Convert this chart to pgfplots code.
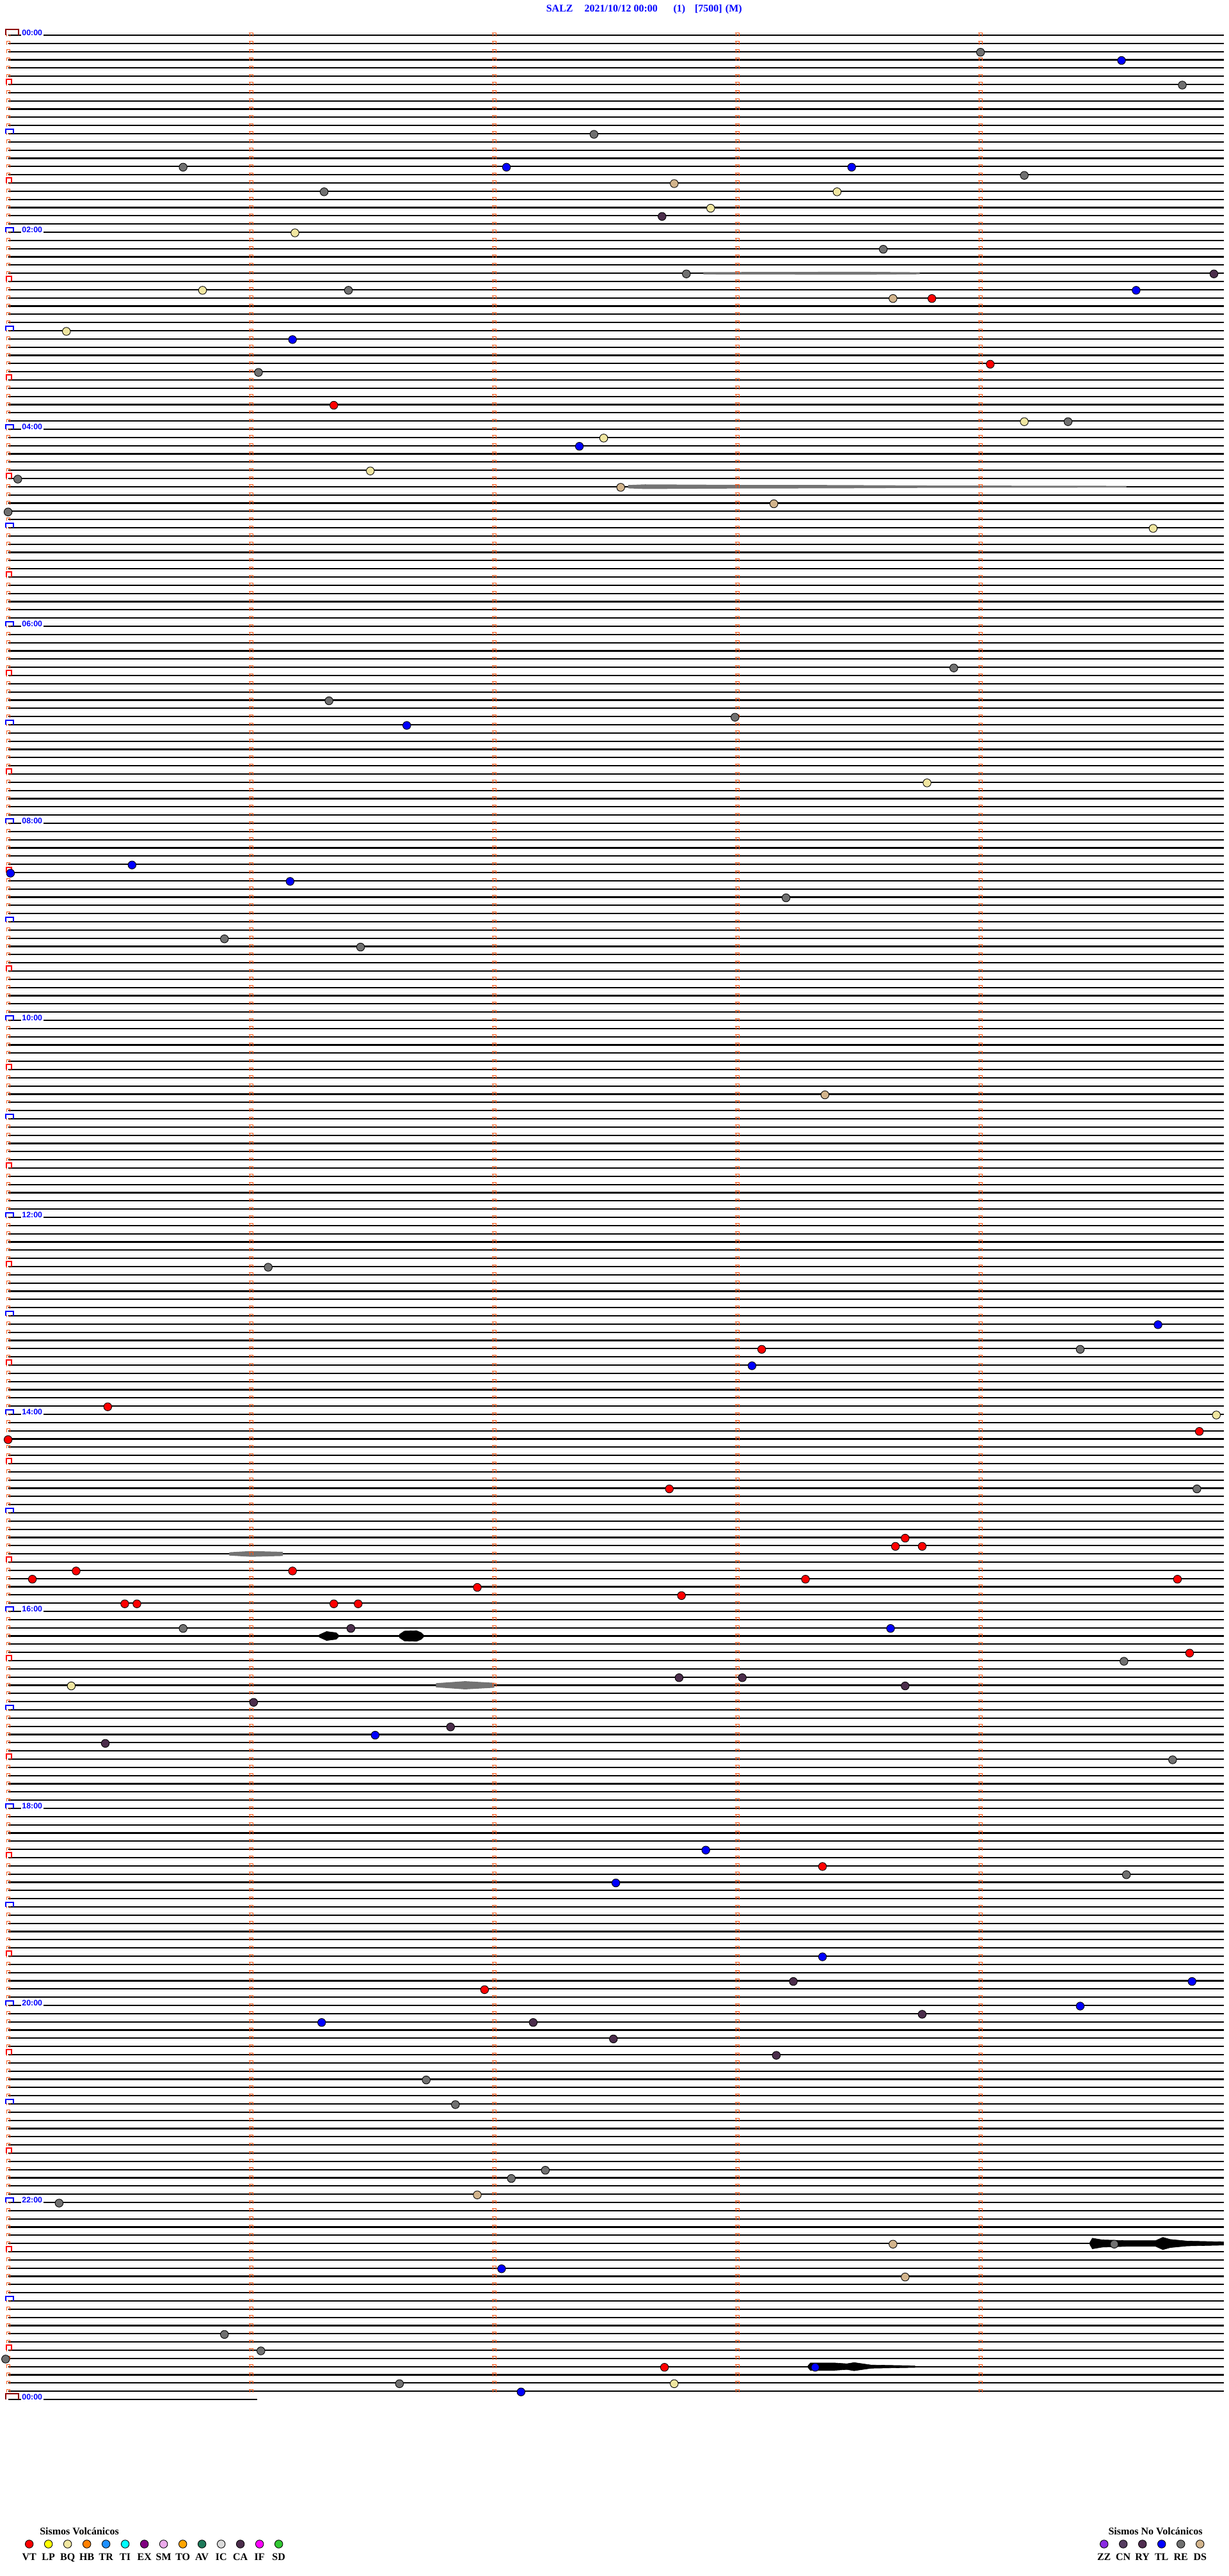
\documentclass[border=0pt]{standalone}
\usepackage{pgfplots}
\pgfplotsset{compat=1.18}
\usepackage{fontspec}
\setmainfont{Liberation Serif}
\newfontfamily\lsans{Liberation Sans}

\definecolor{cVT}{RGB}{255,0,0}
\definecolor{cLP}{RGB}{255,255,0}
\definecolor{cBQ}{RGB}{240,230,160}
\definecolor{cHB}{RGB}{255,128,0}
\definecolor{cTR}{RGB}{30,144,255}
\definecolor{cTI}{RGB}{0,255,255}
\definecolor{cEX}{RGB}{128,0,128}
\definecolor{cSM}{RGB}{235,170,235}
\definecolor{cTO}{RGB}{255,165,0}
\definecolor{cAV}{RGB}{30,122,90}
\definecolor{cIC}{RGB}{218,218,218}
\definecolor{cCA}{RGB}{75,45,75}
\definecolor{cIF}{RGB}{255,0,255}
\definecolor{cSD}{RGB}{50,200,50}
\definecolor{cZZ}{RGB}{138,43,226}
\definecolor{cCN}{RGB}{85,60,95}
\definecolor{cRY}{RGB}{80,45,80}
\definecolor{cTL}{RGB}{0,0,255}
\definecolor{cRE}{RGB}{112,112,112}
\definecolor{cDS}{RGB}{210,180,140}
\definecolor{morange}{RGB}{255,85,20}
\definecolor{dred}{RGB}{139,0,0}

\pgfdeclareplotmark{hourbox}{%
  \pgfpathrectangle{\pgfqpoint{-1.5pt}{0.3pt}}{\pgfqpoint{3pt}{1.45pt}}%
  \pgfsetfillcolor{white}\pgfusepathqfill
  \pgfpathmoveto{\pgfqpoint{-1.5pt}{0pt}}\pgfpathlineto{\pgfqpoint{-1.5pt}{1.75pt}}%
  \pgfpathlineto{\pgfqpoint{1.5pt}{1.75pt}}\pgfpathlineto{\pgfqpoint{1.5pt}{0pt}}%
  \pgfsetstrokecolor{blue}\pgfsetlinewidth{0.4pt}\pgfusepathqstroke}
\pgfdeclareplotmark{halfbox}{%
  \pgfpathrectangle{\pgfqpoint{-1pt}{0.3pt}}{\pgfqpoint{2pt}{1.7pt}}%
  \pgfsetfillcolor{white}\pgfusepathqfill
  \pgfpathmoveto{\pgfqpoint{-1pt}{0pt}}\pgfpathlineto{\pgfqpoint{-1pt}{2pt}}%
  \pgfpathlineto{\pgfqpoint{1pt}{2pt}}\pgfpathlineto{\pgfqpoint{1pt}{0pt}}%
  \pgfsetstrokecolor{red}\pgfsetlinewidth{0.3pt}\pgfusepathqstroke}
\pgfdeclareplotmark{daybox}{%
  \pgfpathrectangle{\pgfqpoint{-2.5pt}{0.3pt}}{\pgfqpoint{5pt}{1.95pt}}%
  \pgfsetfillcolor{white}\pgfusepathqfill
  \pgfpathmoveto{\pgfqpoint{-2.5pt}{0pt}}\pgfpathlineto{\pgfqpoint{-2.5pt}{2.2pt}}%
  \pgfpathlineto{\pgfqpoint{2.5pt}{2.2pt}}\pgfpathlineto{\pgfqpoint{2.5pt}{0pt}}%
  \pgfsetstrokecolor{dred}\pgfsetlinewidth{0.45pt}\pgfusepathqstroke}

\pgfplotsset{
  ev/.style={only marks, mark=*, mark size=1.5625pt,
    mark options={fill=#1, draw=black, line width=0.22pt}},
  oside/.style={morange, line width=0.25pt, dash pattern=on 1.25pt off 1.958333pt},
  otop/.style={morange, line width=1.6pt, dash pattern=on 0.25pt off 2.958333pt},
  wave/.style={fill=black, draw=black, line width=0.15pt},
  noise/.style={fill=black!55, draw=none},
}
\tikzset{
  tl/.style={anchor=base west, inner xsep=0.4pt, inner ysep=0.35pt, fill=white, text=blue, font=\lsans\bfseries\fontsize{3.1}{3.7}\selectfont},
  lg/.style={anchor=base, inner sep=0pt, font=\bfseries\fontsize{4}{4.8}\selectfont},
}

\begin{document}
\begin{tikzpicture}
\begin{axis}[
  scale only axis, width=475pt, height=1006.75pt,
  xmin=0, xmax=5, ymin=-4.285714, ymax=309.5065,
  y dir=reverse, clip=false,
  axis line style={draw=none},
  xtick=\empty, ytick={0,1,...,287},
  yticklabels={}, yticklabel style={overlay},
  major tick length=0pt,
  ymajorgrids, major grid style={black, line width=0.55pt},
]
% invisible frame for the whole picture
\addplot[draw=none, forget plot] coordinates {(-0.033158,-4.285714) (5.019474,309.5065)};
% partial last trace (24:00)
\addplot[black, line width=0.55pt] coordinates {(0,288) (1.025,288)};

% noisy stretches of trace
\addplot[noise] coordinates {(2.86,28.86) (3.2,28.84) (3.5,28.82) (3.75,28.88)
  (3.75,29.12) (3.5,29.18) (3.2,29.16) (2.86,29.14)} --cycle;
\addplot[noise] coordinates {(2.55,54.8) (2.62,54.72) (2.75,54.74) (3.0,54.78) (3.4,54.8) (3.8,54.86) (4.6,54.9)
  (4.6,55.1) (3.8,55.14) (3.4,55.2) (3.0,55.22) (2.75,55.26) (2.62,55.28) (2.55,55.2)} --cycle;
\addplot[noise] coordinates {(0.91,184.8) (1.0,184.65) (1.13,184.75) (1.13,185.25) (1.0,185.35) (0.91,185.2)} --cycle;
\addplot[noise] coordinates {(1.76,200.75) (1.88,200.5) (2.0,200.7) (2.0,201.3) (1.88,201.5) (1.76,201.25)} --cycle;

% waveforms of larger events
\addplot[wave] coordinates {(1.28,194.85) (1.31,194.45) (1.35,194.6) (1.36,194.9) (1.36,195.1) (1.35,195.4) (1.31,195.55) (1.28,195.15)} --cycle;
\addplot[wave] coordinates {(1.61,194.8) (1.63,194.4) (1.68,194.35) (1.70,194.6) (1.71,194.9) (1.71,195.1) (1.70,195.4) (1.68,195.65) (1.63,195.6) (1.61,195.2)} --cycle;
\addplot[wave] coordinates {(4.45,268.85) (4.46,268.35) (4.50,268.55) (4.60,268.65) (4.72,268.65) (4.75,268.25) (4.78,268.5) (4.85,268.7) (5.0,268.8)
  (5.0,269.2) (4.85,269.3) (4.78,269.5) (4.75,269.75) (4.72,269.35) (4.60,269.35) (4.50,269.45) (4.46,269.65) (4.45,269.15)} --cycle;
\addplot[wave] coordinates {(3.29,283.9) (3.30,283.55) (3.40,283.55) (3.45,283.65) (3.48,283.5) (3.55,283.8) (3.73,283.9)
  (3.73,284.1) (3.55,284.2) (3.48,284.5) (3.45,284.35) (3.40,284.45) (3.30,284.45) (3.29,284.1)} --cycle;

% orange marks: left column and minute columns
\addplot[oside] coordinates {(-0.00498,-0.2338) (-0.00498,287.2)};
\addplot[oside] coordinates {(0.00818,-0.2338) (0.00818,287.2)};
\addplot[otop] coordinates {(0.0016,-0.2727) (0.0016,287.1)};
\addplot[oside] coordinates {(0.99342,-0.2338) (0.99342,287.2)};
\addplot[oside] coordinates {(1.00658,-0.2338) (1.00658,287.2)};
\addplot[otop] coordinates {(1,-0.2727) (1,287.1)};
\addplot[oside] coordinates {(1.99342,-0.2338) (1.99342,287.2)};
\addplot[oside] coordinates {(2.00658,-0.2338) (2.00658,287.2)};
\addplot[otop] coordinates {(2,-0.2727) (2,287.1)};
\addplot[oside] coordinates {(2.99342,-0.2338) (2.99342,287.2)};
\addplot[oside] coordinates {(3.00658,-0.2338) (3.00658,287.2)};
\addplot[otop] coordinates {(3,-0.2727) (3,287.1)};
\addplot[oside] coordinates {(3.99342,-0.2338) (3.99342,287.2)};
\addplot[oside] coordinates {(4.00658,-0.2338) (4.00658,287.2)};
\addplot[otop] coordinates {(4,-0.2727) (4,287.1)};

% hour / half-hour / day boxes
\addplot[only marks, mark=halfbox] coordinates {(0.0037,6) (0.0037,18) (0.0037,30) (0.0037,42) (0.0037,54) (0.0037,66) (0.0037,78) (0.0037,90) (0.0037,102) (0.0037,114) (0.0037,126) (0.0037,138) (0.0037,150) (0.0037,162) (0.0037,174) (0.0037,186) (0.0037,198) (0.0037,210) (0.0037,222) (0.0037,234) (0.0037,246) (0.0037,258) (0.0037,270) (0.0037,282)};
\addplot[only marks, mark=hourbox] coordinates {(0.0063,12) (0.0063,24) (0.0063,36) (0.0063,48) (0.0063,60) (0.0063,72) (0.0063,84) (0.0063,96) (0.0063,108) (0.0063,120) (0.0063,132) (0.0063,144) (0.0063,156) (0.0063,168) (0.0063,180) (0.0063,192) (0.0063,204) (0.0063,216) (0.0063,228) (0.0063,240) (0.0063,252) (0.0063,264) (0.0063,276)};
\addplot[only marks, mark=daybox] coordinates {(0.0176,0) (0.0176,288)};

% events
\addplot[ev=cRE] coordinates {(4.00,2.08) (4.83,6.08) (2.41,12.08) (0.72,16.08) (4.18,17.08) (1.30,19.08) (3.60,26.08) (2.79,29.08) (1.40,31.08) (1.03,41.08) (4.36,47.08) (0.04,54.08) (0.0,58.08) (3.89,77.08) (1.32,81.08) (2.99,83.08) (3.20,105.08) (0.89,110.08) (1.45,111.08) (1.07,150.08) (4.41,160.08) (4.89,177.08) (0.72,194.08) (4.59,198.08) (4.79,210.08) (4.60,224.08) (1.72,249.08) (1.84,252.08) (2.21,260.08) (2.07,261.08) (0.21,264.08) (4.55,269.08) (0.89,280.08) (1.04,282.08) (-0.01,283.08) (1.61,286.08)};
\addplot[ev=cCA] coordinates {(2.69,22.08) (4.96,29.08) (1.41,194.08) (2.76,200.08) (3.02,200.08) (3.69,201.08) (1.01,203.08) (1.82,206.08) (0.40,208.08) (3.23,237.08) (3.76,241.08) (2.16,242.08) (2.49,244.08) (3.16,246.08)};
\addplot[ev=cBQ] coordinates {(3.41,19.08) (2.89,21.08) (1.18,24.08) (0.80,31.08) (0.24,36.08) (4.18,47.08) (2.45,49.08) (1.49,53.08) (4.71,60.08) (3.78,91.08) (4.97,168.08) (0.26,201.08) (2.74,286.08)};
\addplot[ev=cDS] coordinates {(2.74,18.08) (3.64,32.08) (2.52,55.08) (3.15,57.08) (3.36,129.08) (1.93,263.08) (3.64,269.08) (3.69,273.08)};
\addplot[ev=cTL] coordinates {(4.58,3.08) (2.05,16.08) (3.47,16.08) (4.64,31.08) (1.17,37.08) (2.35,50.08) (1.64,84.08) (0.51,101.08) (0.01,102.08) (1.16,103.08) (4.73,157.08) (3.06,162.08) (3.63,194.08) (1.51,207.08) (2.87,221.08) (2.50,225.08) (3.35,234.08) (4.87,237.08) (4.41,240.08) (1.29,242.08) (2.03,272.08) (3.32,284.08) (2.11,287.08)};
\addplot[ev=cVT] coordinates {(3.80,32.08) (4.04,40.08) (1.34,45.08) (3.10,160.08) (0.41,167.08) (4.90,170.08) (0.0,171.08) (2.72,177.08) (3.69,183.08) (3.65,184.08) (3.76,184.08) (0.28,187.08) (1.17,187.08) (0.10,188.08) (3.28,188.08) (4.81,188.08) (1.93,189.08) (2.77,190.08) (0.48,191.08) (0.53,191.08) (1.34,191.08) (1.44,191.08) (4.86,197.08) (3.35,223.08) (1.96,238.08) (2.70,284.08)};

% legend symbols
\addplot[ev=cVT] coordinates {(0.0871,305.61)};
\addplot[ev=cLP] coordinates {(0.1661,305.61)};
\addplot[ev=cBQ] coordinates {(0.2450,305.61)};
\addplot[ev=cHB] coordinates {(0.3240,305.61)};
\addplot[ev=cTR] coordinates {(0.4029,305.61)};
\addplot[ev=cTI] coordinates {(0.4818,305.61)};
\addplot[ev=cEX] coordinates {(0.5608,305.61)};
\addplot[ev=cSM] coordinates {(0.6397,305.61)};
\addplot[ev=cTO] coordinates {(0.7187,305.61)};
\addplot[ev=cAV] coordinates {(0.7976,305.61)};
\addplot[ev=cIC] coordinates {(0.8766,305.61)};
\addplot[ev=cCA] coordinates {(0.9555,305.61)};
\addplot[ev=cIF] coordinates {(1.0345,305.61)};
\addplot[ev=cSD] coordinates {(1.1134,305.61)};
\addplot[ev=cZZ] coordinates {(4.5082,305.61)};
\addplot[ev=cCN] coordinates {(4.5871,305.61)};
\addplot[ev=cRY] coordinates {(4.6661,305.61)};
\addplot[ev=cTL] coordinates {(4.7450,305.61)};
\addplot[ev=cRE] coordinates {(4.8239,305.61)};
\addplot[ev=cDS] coordinates {(4.9029,305.61)};

% title
\node[anchor=base west, inner sep=0pt, text=blue, font=\bfseries\fontsize{4}{4.8}\selectfont] at (axis cs:2.2116,-2.82)
  {SALZ\hspace{4.5pt}2021/10/12 00:00\hspace{6.2pt}(1)\hspace{3.7pt}[7500]\hspace{1.3pt}(M)};

% time labels
\node[tl] at (axis cs:0.0511,0.05) {00:00};
\node[tl] at (axis cs:0.0511,24.05) {02:00};
\node[tl] at (axis cs:0.0511,48.05) {04:00};
\node[tl] at (axis cs:0.0511,72.05) {06:00};
\node[tl] at (axis cs:0.0511,96.05) {08:00};
\node[tl] at (axis cs:0.0511,120.05) {10:00};
\node[tl] at (axis cs:0.0511,144.05) {12:00};
\node[tl] at (axis cs:0.0511,168.05) {14:00};
\node[tl] at (axis cs:0.0511,192.05) {16:00};
\node[tl] at (axis cs:0.0511,216.05) {18:00};
\node[tl] at (axis cs:0.0511,240.05) {20:00};
\node[tl] at (axis cs:0.0511,264.05) {22:00};
\node[tl] at (axis cs:0.0511,288.05) {00:00};

% legend texts
\node[lg] at (axis cs:0.2932,304.45) {Sismos Volcánicos};
\node[lg] at (axis cs:4.7195,304.45) {Sismos No Volcánicos};
\node[lg] at (axis cs:0.0871,307.6) {VT};
\node[lg] at (axis cs:0.1661,307.6) {LP};
\node[lg] at (axis cs:0.2450,307.6) {BQ};
\node[lg] at (axis cs:0.3240,307.6) {HB};
\node[lg] at (axis cs:0.4029,307.6) {TR};
\node[lg] at (axis cs:0.4818,307.6) {TI};
\node[lg] at (axis cs:0.5608,307.6) {EX};
\node[lg] at (axis cs:0.6397,307.6) {SM};
\node[lg] at (axis cs:0.7187,307.6) {TO};
\node[lg] at (axis cs:0.7976,307.6) {AV};
\node[lg] at (axis cs:0.8766,307.6) {IC};
\node[lg] at (axis cs:0.9555,307.6) {CA};
\node[lg] at (axis cs:1.0345,307.6) {IF};
\node[lg] at (axis cs:1.1134,307.6) {SD};
\node[lg] at (axis cs:4.5082,307.6) {ZZ};
\node[lg] at (axis cs:4.5871,307.6) {CN};
\node[lg] at (axis cs:4.6661,307.6) {RY};
\node[lg] at (axis cs:4.7450,307.6) {TL};
\node[lg] at (axis cs:4.8239,307.6) {RE};
\node[lg] at (axis cs:4.9029,307.6) {DS};
\end{axis}
\end{tikzpicture}
\end{document}
